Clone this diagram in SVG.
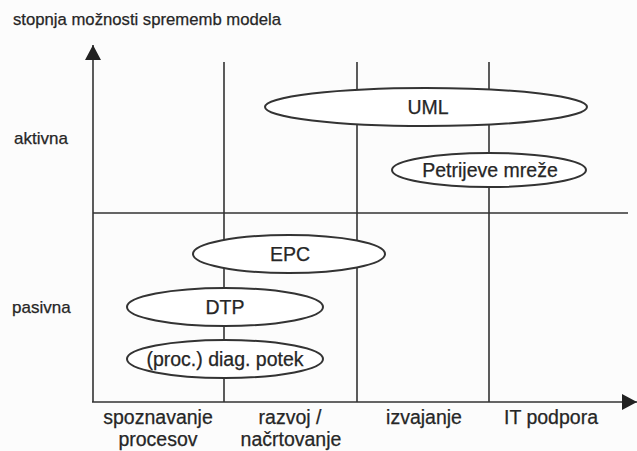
<svg xmlns="http://www.w3.org/2000/svg" width="637" height="451" viewBox="0 0 637 451">
<style>
.ln{stroke:#333;stroke-width:1.6;fill:none}
.el{stroke:#333;stroke-width:2;fill:#fff}
.t{font-family:"Liberation Sans",Arial,sans-serif;fill:#262626;stroke:#262626;stroke-width:0.25}
.n{font-size:19.5px;text-anchor:middle}
.s{font-size:17px}
</style>
<defs>
<marker id="ah" viewBox="0 0 15 16" refX="15" refY="8" markerWidth="15" markerHeight="16" markerUnits="userSpaceOnUse" orient="auto">
<path d="M0,0 L15,8 L0,16 Z" fill="#222"/>
</marker>
</defs>
<rect width="637" height="451" fill="#fcfcfc"/>
<g id="connectors">
<line class="ln" x1="93" y1="402" x2="93" y2="45" marker-end="url(#ah)"/>
<line class="ln" x1="92" y1="402" x2="637" y2="402" marker-end="url(#ah)"/>
<line class="ln" x1="93" y1="213" x2="628" y2="213"/>
<line class="ln" x1="224" y1="62" x2="224" y2="402"/>
<line class="ln" x1="357" y1="62" x2="357" y2="402"/>
<line class="ln" x1="489" y1="62" x2="489" y2="402"/>
</g>
<text class="t" x="13" y="25" style="font-size:16.7px">stopnja možnosti sprememb modela</text>
<text class="t s" x="14" y="144">aktivna</text>
<text class="t s" x="12" y="313">pasivna</text>
<g id="uml"><ellipse class="el" cx="426" cy="107" rx="161" ry="19"/><text class="t n" x="428" y="114">UML</text></g>
<g id="petri"><ellipse class="el" cx="489" cy="170" rx="97" ry="17"/><text class="t n" x="490" y="177">Petrijeve mreže</text></g>
<g id="epc"><ellipse class="el" cx="289" cy="254" rx="96" ry="19"/><text class="t n" x="290" y="261">EPC</text></g>
<g id="dtp"><ellipse class="el" cx="225" cy="307" rx="98" ry="19"/><text class="t n" x="225" y="314">DTP</text></g>
<g id="proc"><ellipse class="el" cx="225" cy="359" rx="98" ry="19"/><text class="t n" x="225" y="366">(proc.) diag. potek</text></g>
<text class="t n" x="158" y="424">spoznavanje</text>
<text class="t n" x="158" y="446">procesov</text>
<text class="t n" x="290" y="424">razvoj /</text>
<text class="t n" x="291" y="446">načrtovanje</text>
<text class="t n" x="424" y="424">izvajanje</text>
<text class="t n" x="551" y="424">IT podpora</text>
</svg>
